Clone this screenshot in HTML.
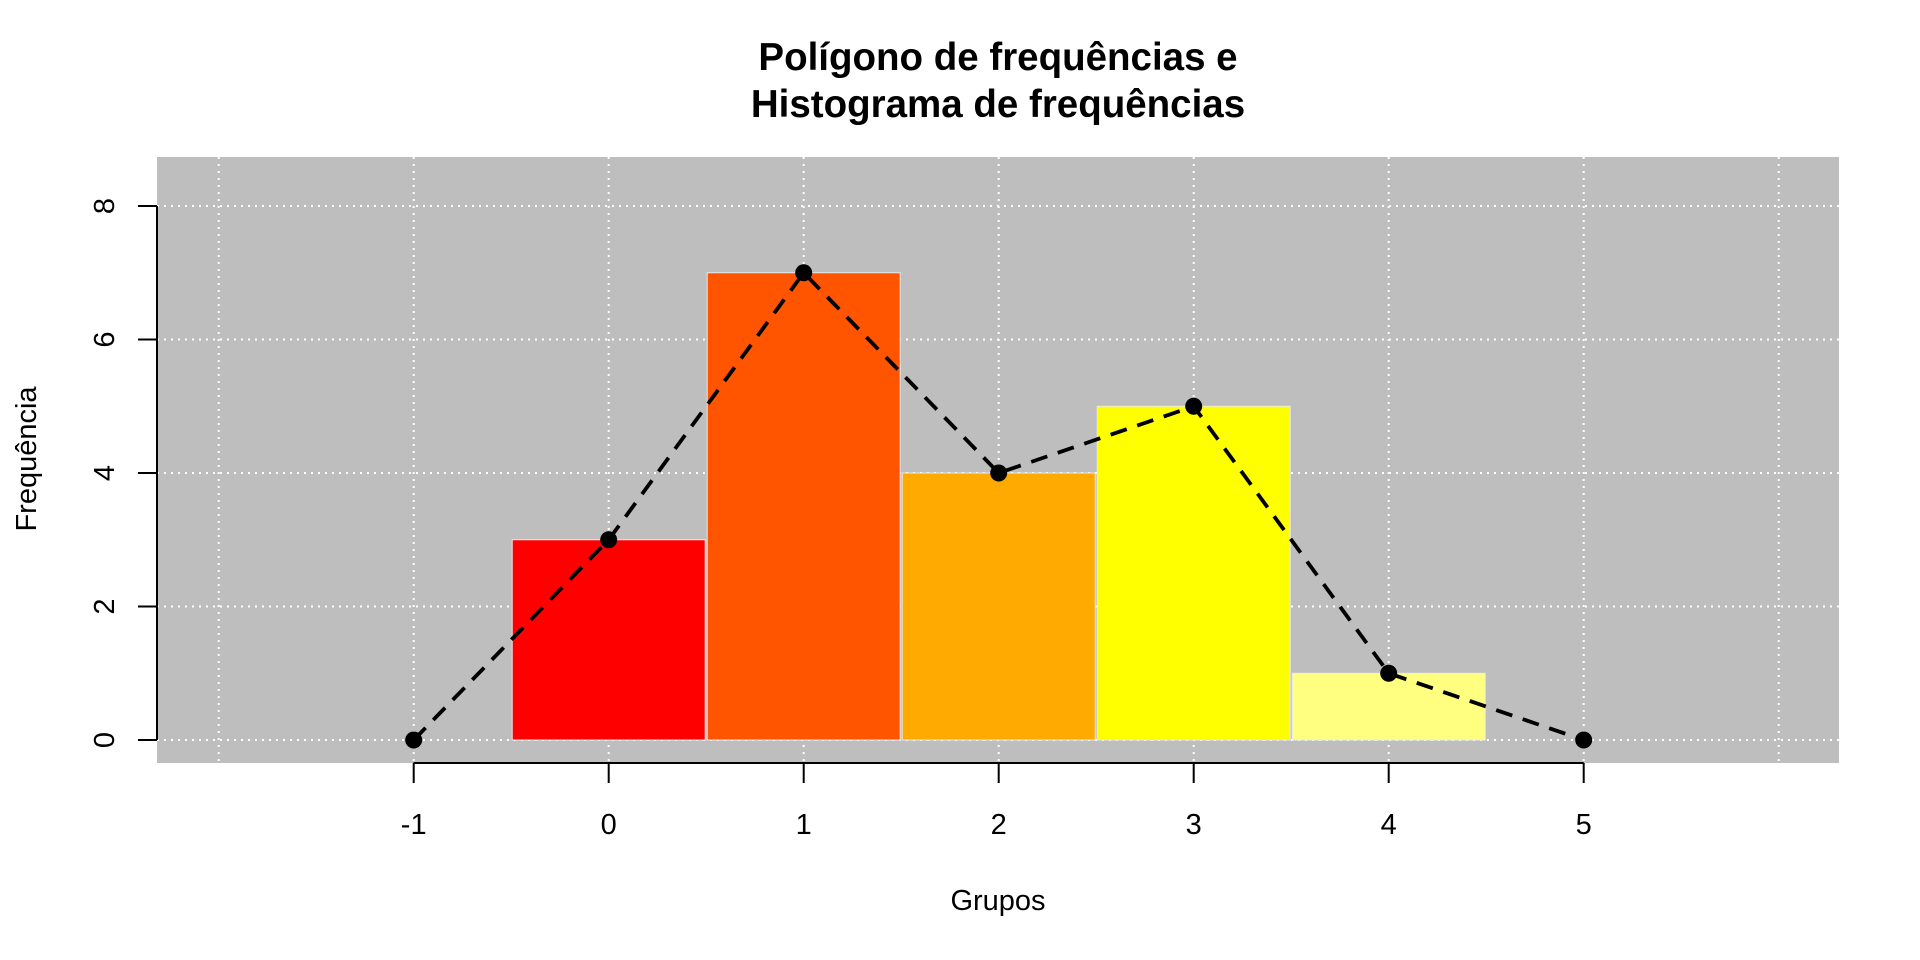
<!DOCTYPE html>
<html><head><meta charset="utf-8"><style>
html,body{margin:0;padding:0;background:#fff;}
svg{display:block;font-family:"Liberation Sans",Arial,sans-serif;}
</style></head><body>
<svg id="chart" width="1920" height="960" viewBox="0 0 1920 960">
<rect x="157" y="157" width="1682" height="606" fill="#bebebe"/>
<g id="grid"></g><g id="bars"></g><g id="poly"></g><g id="axes"></g>
<text x="998" y="70" text-anchor="middle" font-size="38.5" font-weight="bold">Polígono de frequências e</text>
<text x="998" y="117" text-anchor="middle" font-size="38.5" font-weight="bold">Histograma de frequências</text>
<text x="998" y="910" text-anchor="middle" font-size="29">Grupos</text>
<text transform="translate(36,459) rotate(-90)" text-anchor="middle" font-size="29">Frequência</text>
</svg>
<script>
const groups=[0,1,2,3,4];
const freqs=[3,7,4,5,1];
const barColors=["#FF0000","#FF5500","#FFAA00","#FFFF00","#FFFF80"];
const polyX=[-1,0,1,2,3,4,5];
const polyY=[0,3,7,4,5,1,0];
const xTicks=[-1,0,1,2,3,4,5];
const yTicks=[0,2,4,6,8];
const xGrid=[-2,-1,0,1,2,3,4,5,6];
const NS="http://www.w3.org/2000/svg";
const sx=v=>608.7+(v)*195;
const sy=v=>740-v*66.75;
function mk(tag,attrs,parent){const e=document.createElementNS(NS,tag);for(const k in attrs)e.setAttribute(k,attrs[k]);document.getElementById(parent).appendChild(e);return e;}
xGrid.forEach(v=>{const e=mk('line',{x1:sx(v),x2:sx(v),y1:157,y2:763,stroke:'#fff','stroke-width':2,'stroke-dasharray':'2 5'},'grid');

});
yTicks.forEach(v=>{const e=mk('line',{x1:157,x2:1839,y1:sy(v),y2:sy(v),stroke:'#fff','stroke-width':2,'stroke-dasharray':'2 5'},'grid');

});
groups.forEach((g,i)=>{const x0=sx(g-0.5),x1=sx(g+0.5);const e=mk('rect',{x:x0+1,y:sy(freqs[i]),width:x1-x0-2,height:sy(0)-sy(freqs[i]),fill:barColors[i],stroke:'#e8e8e8','stroke-width':1},'bars');

});
const pl=mk('polyline',{points:polyX.map((x,i)=>sx(x)+','+sy(polyY[i])).join(' '),fill:'none',stroke:'#000','stroke-width':3.8,'stroke-dasharray':'17 11'},'poly');


polyX.forEach((x,i)=>{const c=mk('circle',{cx:sx(x),cy:sy(polyY[i]),r:8.5,fill:'#000'},'poly');

});
const xa=mk('line',{x1:sx(xTicks[0]),x2:sx(xTicks[xTicks.length-1]),y1:763,y2:763,stroke:'#000','stroke-width':2},'axes');


xTicks.forEach(v=>{const t=mk('line',{x1:sx(v),x2:sx(v),y1:763,y2:783,stroke:'#000','stroke-width':2},'axes');


const l=mk('text',{x:sx(v),y:834,'text-anchor':'middle','font-size':29},'axes');l.textContent=v;

});
const ya=mk('line',{x1:157,x2:157,y1:sy(yTicks[0]),y2:sy(yTicks[yTicks.length-1]),stroke:'#000','stroke-width':2},'axes');


yTicks.forEach(v=>{const t=mk('line',{x1:138,x2:157,y1:sy(v),y2:sy(v),stroke:'#000','stroke-width':2},'axes');


const l=mk('text',{transform:`translate(114,${sy(v)}) rotate(-90)`,'text-anchor':'middle','font-size':29},'axes');l.textContent=v;

});
</script>
</body></html>
